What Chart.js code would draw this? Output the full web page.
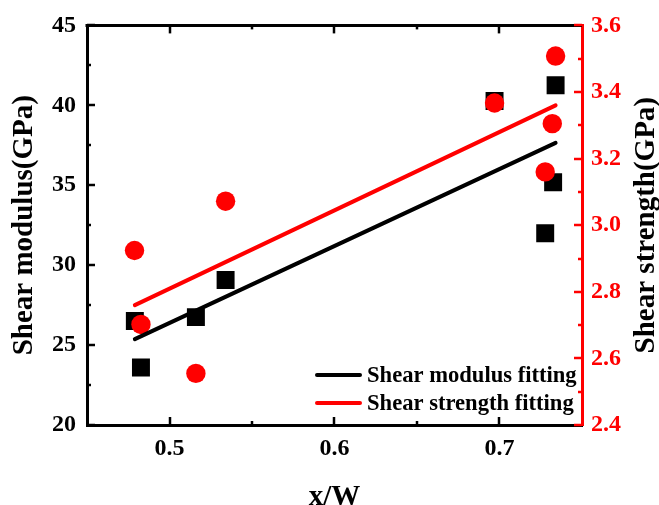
<!DOCTYPE html>
<html>
<head>
<meta charset="utf-8">
<script src="https://cdn.jsdelivr.net/npm/chart.js@4.4.0/dist/chart.umd.min.js"></script>
<style>
    body { margin: 0; background: #fff; }
</style>
</head>
<body>
<canvas id="chart" width="659" height="505"></canvas>
<script>
// Data
const modulusX = [0.479, 0.4827, 0.516, 0.534, 0.697, 0.7277, 0.7325, 0.734];
const modulus = [26.5, 23.6, 26.75, 29.07, 40.27, 32.0, 35.19, 41.25];
const strengthX = [0.4788, 0.4827, 0.516, 0.534, 0.697, 0.7277, 0.732, 0.734];
const strength = [2.924, 2.702, 2.555, 3.072, 3.367, 3.16, 3.305, 3.508];

// Linear fits (end points)
const fitX = [0.479, 0.734];
const modulusFit = [25.37, 37.65];
const strengthFit = [2.760, 3.360];

// Axis ticks
const xTicks = [0.5, 0.6, 0.7];
const xMinor = [0.55, 0.65];
const yTicks = [20, 25, 30, 35, 40, 45];
const yMinor = [22.5, 27.5, 32.5, 37.5, 42.5];
const y2Ticks = [2.4, 2.6, 2.8, 3.0, 3.2, 3.4, 3.6];
const y2Minor = [2.5, 2.7, 2.9, 3.1, 3.3, 3.5];

const FONT = '"Liberation Serif", "Times New Roman", serif';
const RED = '#ff0000';

const toPoints = (xs, ys) => xs.map((x, i) => ({ x, y: ys[i] }));
const fixTicks = list => scale => { scale.ticks = list.map(v => ({ value: v })); };

// Inward tick marks on all four sides + top frame line
const frameTicks = {
    id: 'frameTicks',
    afterDraw(chart) {
        const { ctx, chartArea: a, scales } = chart;
        const line = (x1, y1, x2, y2) => { ctx.beginPath(); ctx.moveTo(x1, y1); ctx.lineTo(x2, y2); ctx.stroke(); };
        ctx.save();
        ctx.strokeStyle = '#000';
        ctx.lineWidth = 3;
        line(a.left - 1.5, a.top, a.right, a.top);

        ctx.lineWidth = 2.5;
        xTicks.forEach(v => {
            const px = Math.round(scales.x.getPixelForValue(v));
            line(px, a.bottom, px, a.bottom - 8);
            line(px, a.top, px, a.top + 8);
        });
        xMinor.forEach(v => {
            const px = Math.round(scales.x.getPixelForValue(v));
            line(px, a.bottom, px, a.bottom - 4);
            line(px, a.top, px, a.top + 4);
        });
        yTicks.forEach(v => {
            const py = Math.round(scales.y.getPixelForValue(v));
            line(a.left, py, a.left + 8, py);
        });
        yMinor.forEach(v => {
            const py = Math.round(scales.y.getPixelForValue(v));
            line(a.left, py, a.left + 4, py);
        });
        ctx.strokeStyle = RED;
        y2Ticks.forEach(v => {
            const py = Math.round(scales.y2.getPixelForValue(v));
            line(a.right, py, a.right - 8, py);
        });
        y2Minor.forEach(v => {
            const py = Math.round(scales.y2.getPixelForValue(v));
            line(a.right, py, a.right - 4, py);
        });
        ctx.restore();
    }
};

// Axis titles (right one reads bottom-to-top like the left one)
const axisTitles = {
    id: 'axisTitles',
    afterDraw(chart) {
        const { ctx, chartArea: a } = chart;
        const midY = (a.top + a.bottom) / 2;
        ctx.save();
        ctx.font = 'bold 29px ' + FONT;
        ctx.fillStyle = '#000';
        ctx.textAlign = 'center';
        ctx.textBaseline = 'middle';
        [['Shear modulus(GPa)', 25], ['Shear strength(GPa)', chart.width - 12]].forEach(([t, x]) => {
            ctx.save();
            ctx.translate(x, midY);
            ctx.rotate(-Math.PI / 2);
            ctx.fillText(t, 0, 0);
            ctx.restore();
        });
        ctx.fillText('x/W', (a.left + a.right) / 2, chart.height - 7);
        ctx.restore();
    }
};

// Legend for the two fit lines, inside the plot at bottom right
const fitLegend = {
    id: 'fitLegend',
    afterDraw(chart) {
        const { ctx, chartArea: a } = chart;
        const items = chart.data.datasets.filter(d => d.showLine);
        ctx.save();
        ctx.font = 'bold 22.6px ' + FONT;
        ctx.textBaseline = 'middle';
        ctx.textAlign = 'left';
        items.forEach((d, i) => {
            const y = a.bottom - 50 + i * 28;
            const x0 = a.left + 230;
            ctx.strokeStyle = d.borderColor;
            ctx.lineWidth = 4;
            ctx.lineCap = 'round';
            ctx.beginPath();
            ctx.moveTo(x0, y);
            ctx.lineTo(x0 + 43, y);
            ctx.stroke();
            ctx.fillStyle = '#000';
            ctx.fillText(d.label, x0 + 50, y + 1);
        });
        ctx.restore();
    }
};

new Chart(document.getElementById('chart'), {
    type: 'scatter',
    data: {
        datasets: [
            {
                label: 'Shear modulus fitting',
                data: toPoints(fitX, modulusFit),
                yAxisID: 'y',
                showLine: true,
                borderColor: '#000',
                borderWidth: 4,
                borderCapStyle: 'round',
                pointRadius: 0
            },
            {
                label: 'Shear strength fitting',
                data: toPoints(fitX, strengthFit),
                yAxisID: 'y2',
                showLine: true,
                borderColor: RED,
                borderWidth: 4,
                borderCapStyle: 'round',
                pointRadius: 0
            },
            {
                label: 'Shear strength',
                data: toPoints(strengthX, strength),
                yAxisID: 'y2',
                pointStyle: 'circle',
                pointRadius: 9.7,
                backgroundColor: RED,
                borderWidth: 0
            },
            {
                label: 'Shear modulus',
                data: toPoints(modulusX, modulus),
                yAxisID: 'y',
                pointStyle: 'rect',
                pointRadius: 12.7,
                backgroundColor: '#000',
                borderWidth: 0
            }
        ]
    },
    options: {
        responsive: false,
        animation: false,
        events: [],
        layout: { padding: { top: 21, left: 0, right: 0, bottom: 0 } },
        plugins: {
            legend: { display: false },
            tooltip: { enabled: false }
        },
        scales: {
            x: {
                type: 'linear',
                position: 'bottom',
                min: 0.45,
                max: 0.75,
                afterBuildTicks: fixTicks(xTicks),
                afterFit: s => { s.height = 80; },
                grid: { display: false, drawTicks: false },
                border: { display: true, color: '#000', width: 3 },
                ticks: {
                    padding: 9,
                    color: '#000',
                    font: { family: FONT, size: 24, weight: 'bold' },
                    callback: v => v.toFixed(1)
                }
            },
            y: {
                type: 'linear',
                position: 'left',
                min: 20,
                max: 45,
                afterBuildTicks: fixTicks(yTicks),
                afterFit: s => { s.width = 87; },
                grid: { display: false, drawTicks: false },
                border: { display: true, color: '#000', width: 3 },
                ticks: {
                    padding: 11,
                    color: '#000',
                    font: { family: FONT, size: 24, weight: 'bold' }
                }
            },
            y2: {
                type: 'linear',
                position: 'right',
                min: 2.4,
                max: 3.6,
                afterBuildTicks: fixTicks(y2Ticks),
                afterFit: s => { s.width = 77; },
                grid: { display: false, drawTicks: false },
                border: { display: true, color: RED, width: 3 },
                ticks: {
                    padding: 9,
                    color: RED,
                    font: { family: FONT, size: 24, weight: 'bold' },
                    callback: v => v.toFixed(1)
                }
            }
        }
    },
    plugins: [frameTicks, axisTitles, fitLegend]
});
</script>
</body>
</html>
